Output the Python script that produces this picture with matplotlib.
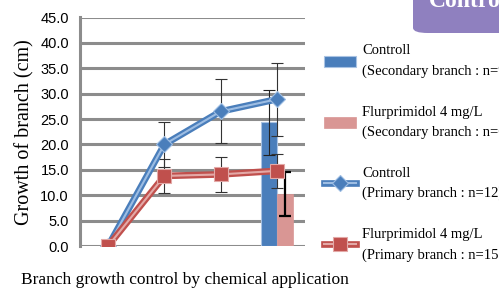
import matplotlib
matplotlib.use("Agg")
import matplotlib.pyplot as plt
from matplotlib.patches import FancyBboxPatch
from matplotlib.lines import Line2D
from matplotlib.legend_handler import HandlerTuple
import numpy as np

# ---- data ----
categories = ["0", "1", "2", "3"]
ctrl_primary = [0.0, 20.0, 26.5, 28.9]
ctrl_primary_err = [0.0, 4.4, 6.3, 7.2]
flur_primary = [0.0, 13.8, 14.1, 14.8]
flur_primary_err = [0.0, 3.4, 3.4, 3.4]
ctrl_secondary = [None, None, None, 24.4]
ctrl_secondary_err = [None, None, None, 6.4]
flur_secondary = [None, None, None, 10.2]
flur_secondary_err = [None, None, None, 4.3]
yticks = [0, 5, 10, 15, 20, 25, 30, 35, 40, 45]
ytick_labels = ["0.0", "5.0", "10.0", "15.0", "20.0", "25.0", "30.0", "35.0", "40.0", "45.0"]
labels = ["Controll\n(Secondary branch : n=9)",
          "Flurprimidol 4 mg/L\n(Secondary branch : n=6)",
          "Controll\n(Primary branch : n=12)",
          "Flurprimidol 4 mg/L\n(Primary branch : n=15)"]

BLUE = "#4a7ebb"
BLUE_L = "#9dbde3"
RED = "#c0504d"
RED_L = "#e3a9a7"
PINK = "#d99694"
GRID = "#8c8c8c"
SERIF = ["Liberation Serif", "DejaVu Serif"]

fig = plt.figure(figsize=(4.99, 2.91), dpi=100)
ax = fig.add_axes([80/499, 1-246/291, 225/499, (246-17.5)/291])

x = np.arange(len(categories))
bw = 0.285

# secondary bars
idx = [i for i, v in enumerate(ctrl_secondary) if v is not None]
xb = x[idx]
b1 = ax.bar(xb - bw/2, [ctrl_secondary[i] for i in idx], width=bw, color=BLUE,
            edgecolor="#a9c3e3", linewidth=0.8, zorder=2)
ax.errorbar(xb - bw/2, [ctrl_secondary[i] for i in idx], yerr=[ctrl_secondary_err[i] for i in idx],
            fmt="none", ecolor="#222222", elinewidth=0.8, capsize=4.5, capthick=0.8, zorder=3)
idx2 = [i for i, v in enumerate(flur_secondary) if v is not None]
xb2 = x[idx2]
b2 = ax.bar(xb2 + bw/2, [flur_secondary[i] for i in idx2], width=bw, color=PINK,
            edgecolor=PINK, linewidth=0.5, zorder=2)
ax.errorbar(xb2 + bw/2, [flur_secondary[i] for i in idx2], yerr=[flur_secondary_err[i] for i in idx2],
            fmt="none", ecolor="#000000", elinewidth=1.6, capsize=4.5, capthick=1.6, zorder=3)

# primary lines with error bars
def err_mask(e):
    return [v if v > 0 else np.nan for v in e]

ax.errorbar(x, ctrl_primary, yerr=err_mask(ctrl_primary_err), fmt="none", ecolor="#333333",
            elinewidth=0.8, capsize=4.5, capthick=0.8, zorder=4)
ax.errorbar(x, flur_primary, yerr=err_mask(flur_primary_err), fmt="none", ecolor="#333333",
            elinewidth=0.8, capsize=4.5, capthick=0.8, zorder=4)

ax.plot(x, ctrl_primary, color=BLUE, lw=4.8, solid_capstyle="round", zorder=5)
ax.plot(x, ctrl_primary, color=BLUE_L, lw=1.5, zorder=5.1)
ax.plot(x, ctrl_primary, color=BLUE, lw=0, marker="D", markersize=8.5,
        markerfacecolor=BLUE, markeredgecolor=BLUE_L, markeredgewidth=0.8, zorder=5.2)
ax.plot(x, flur_primary, color=RED, lw=4.8, solid_capstyle="round", zorder=6)
ax.plot(x, flur_primary, color=RED_L, lw=1.5, zorder=6.1)
ax.plot(x, flur_primary, color=RED, lw=0, marker="s", markersize=9.5,
        markerfacecolor=RED, markeredgecolor=RED_L, markeredgewidth=0.8, zorder=6.2)

# axes styling
ax.set_xlim(-0.5, 3.5)
ax.set_ylim(0, 45)
ax.set_yticks(yticks)
ax.set_yticklabels(ytick_labels, fontsize=10.5, family=["Liberation Sans", "DejaVu Sans"])
ax.set_xticks([])
ax.tick_params(axis="y", length=0, pad=8)
for s in ["top", "right", "bottom"]:
    ax.spines[s].set_visible(False)
ax.spines["left"].set_color(GRID)
ax.spines["left"].set_linewidth(2.2)
ax.yaxis.grid(True, color=GRID, linewidth=2.2, zorder=0)
ax.set_axisbelow(True)
ax.set_ylabel("Growth of branch (cm)", fontsize=14.5, family=SERIF, labelpad=4)

# legend handles
h3 = (Line2D([], [], color=BLUE, lw=4.8), Line2D([], [], color=BLUE_L, lw=1.5),
      Line2D([], [], lw=0, marker="D", markersize=8.5, markerfacecolor=BLUE,
             markeredgecolor=BLUE_L, markeredgewidth=0.8))
h4 = (Line2D([], [], color=RED, lw=4.8), Line2D([], [], color=RED_L, lw=1.5),
      Line2D([], [], lw=0, marker="s", markersize=9.5, markerfacecolor=RED,
             markeredgecolor=RED_L, markeredgewidth=0.8))
leg = fig.legend([b1, b2, h3, h4], labels, loc="upper left",
                 bbox_to_anchor=(324/499, 1-44.5/291), frameon=False,
                 prop={"family": SERIF, "size": 10.5}, handlelength=2.2, handleheight=0.75,
                 handletextpad=0.4, labelspacing=1.86, borderaxespad=0, borderpad=0,
                 handler_map={tuple: HandlerTuple(ndivide=1, pad=0)})
for t in leg.get_texts():
    t.set_linespacing(1.72)

# caption
fig.text(185/499, 1-280/291, "Branch growth control by chemical application",
         ha="center", va="center", fontsize=12.5, family=SERIF)

# purple box top right
box = FancyBboxPatch((413/499, 1-33/291), 0.3, 0.3, boxstyle="round,pad=0,rounding_size=0.03",
                     transform=fig.transFigure, facecolor="#8f80bf", edgecolor="none",
                     mutation_aspect=291/499)
fig.patches.append(box)
fig.text(429/499, 1-7/291, "Controll", ha="left", va="baseline", fontsize=17,
         family=SERIF, weight="bold", color="white")

fig.savefig("out.png", dpi=100)
